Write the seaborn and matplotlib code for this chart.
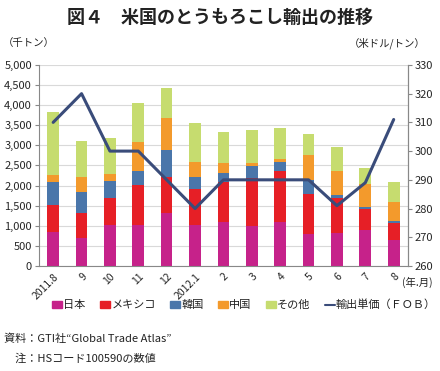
import matplotlib.pyplot as plt
import matplotlib.patches as mpatches
import matplotlib.lines as mlines
import numpy as np
import pandas as pd
import seaborn as sns

# data
months = ["2011.8", "9", "10", "11", "12", "2012.1", "2", "3", "4", "5", "6", "7", "8"]
japan = [855, 698, 1022, 1022, 1321, 1013, 1105, 1005, 1105, 789, 831, 889, 640]
mexico = [657, 623, 681, 980, 888, 906, 980, 1188, 1254, 1005, 870, 523, 431]
korea = [573, 531, 407, 348, 665, 299, 224, 299, 224, 349, 60, 66, 59]
china = [182, 366, 182, 723, 797, 357, 257, 74, 75, 606, 589, 549, 473]
other = [1570, 880, 897, 988, 764, 988, 773, 823, 781, 540, 599, 398, 490]
price = [310, 320, 300, 300, 290, 280, 290, 290, 290, 290, 281, 289, 311]

series_names = ["日本", "メキシコ", "韓国", "中国", "その他"]
colors = ["#C6228A", "#E61F26", "#4A76AA", "#F39A2C", "#C6DC6F"]
line_color = "#3A4C7A"

sns.set_style("white")
plt.rcParams["font.family"] = ["Noto Sans CJK JP", "DejaVu Sans"]
plt.rcParams["text.color"] = "#222222"

fig = plt.figure(figsize=(4.4, 3.71), dpi=100)
ax = fig.add_axes([0.0886, 0.283, 0.8384, 0.542])

df = pd.DataFrame({"month": months, "日本": japan, "メキシコ": mexico,
                   "韓国": korea, "中国": china, "その他": other})
cum = df[series_names].cumsum(axis=1)

# stacked bars: draw cumulative totals from the top layer down
for name, col in zip(series_names[::-1], colors[::-1]):
    sns.barplot(x=df["month"], y=cum[name], color=col, width=0.41,
                saturation=1, edgecolor="none", ax=ax, zorder=2)

ax.set_ylim(0, 5000)
ax.set_yticks(np.arange(0, 5001, 500))
ax.set_yticklabels([f"{v:,}" for v in range(0, 5001, 500)], fontsize=8)
ax.set_xlim(-0.5, len(months) - 0.5)
ax.set_xticks(range(len(months)))
ax.set_xticklabels(months, rotation=45, ha="right", rotation_mode="anchor", fontsize=7.5)
ax.set_xticks(np.arange(-0.5, len(months), 1), minor=True)
ax.tick_params(axis="x", which="major", length=0, pad=4)
ax.tick_params(axis="x", which="minor", length=3, color="#888888")
ax.tick_params(axis="y", length=3, color="#888888", pad=2)
ax.set_xlabel("")
ax.set_ylabel("")
ax.grid(axis="y", color="#D9D9D9", linewidth=0.8, zorder=0)
ax.set_axisbelow(True)
for s in ["left", "right", "bottom"]:
    ax.spines[s].set_color("#888888")
    ax.spines[s].set_linewidth(0.8)
ax.spines["top"].set_visible(False)

# export unit price on the right axis
ax2 = ax.twinx()
sns.lineplot(x=np.arange(len(months)), y=price, color=line_color, linewidth=2.2, ax=ax2)
ax2.set_ylim(260, 330)
ax2.set_yticks(range(260, 331, 10))
ax2.tick_params(axis="y", labelsize=8, length=3, color="#888888", pad=2)
ax2.set_ylabel("")
for s in ["top", "left", "bottom"]:
    ax2.spines[s].set_visible(False)
ax2.spines["right"].set_color("#888888")
ax2.spines["right"].set_linewidth(0.8)

fig.text(0.5, 0.954, "図４　米国のとうもろこし輸出の推移", ha="center", va="center",
         fontsize=13, fontweight="bold")
fig.text(0.007, 0.884, "（千トン）", ha="left", va="center", fontsize=7.5)
fig.text(0.968, 0.884, "（米ドル/トン）", ha="right", va="center", fontsize=7.5)
fig.text(0.913, 0.24, "(年.月)", ha="left", va="center", fontsize=7.5)

handles = [mpatches.Patch(color=c, label=n) for n, c in zip(series_names, colors)]
handles.append(mlines.Line2D([], [], color=line_color, linewidth=1.5, label="輸出単価（ＦＯＢ）"))
fig.legend(handles=handles, loc="center", bbox_to_anchor=(0.555, 0.178), ncol=6,
           frameon=False, fontsize=8, handlelength=0.9, handleheight=0.6,
           handletextpad=0.1, columnspacing=1.3)

fig.text(0.01, 0.086, "資料：GTI社“Global Trade Atlas”", ha="left", va="center", fontsize=8)
fig.text(0.01, 0.035, "　注：HSコード100590の数値", ha="left", va="center", fontsize=8)

fig.savefig("out.png", dpi=100)
